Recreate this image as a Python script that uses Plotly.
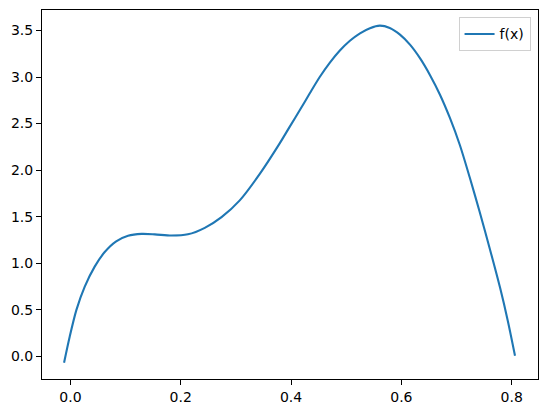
import plotly.graph_objects as go

# values
x_vals = [-0.0115, -0.0013, 0.0109, 0.026, 0.044, 0.0622, 0.083, 0.1045, 0.129, 0.153,
          0.183, 0.213, 0.2436, 0.274, 0.307, 0.343, 0.3797, 0.398, 0.416, 0.434,
          0.452, 0.4704, 0.4885, 0.5067, 0.525, 0.543, 0.561, 0.579, 0.5975, 0.616,
          0.634, 0.652, 0.670, 0.688, 0.706, 0.724, 0.742, 0.761, 0.779, 0.793, 0.806]
y_vals = [-0.069, 0.21, 0.498, 0.748, 0.963, 1.12, 1.235, 1.295, 1.315, 1.31,
          1.297, 1.31, 1.38, 1.495, 1.675, 1.957, 2.29, 2.47, 2.645, 2.825,
          3.0, 3.155, 3.285, 3.39, 3.47, 3.525, 3.552, 3.527, 3.455, 3.345,
          3.20, 3.02, 2.81, 2.56, 2.27, 1.92, 1.55, 1.14, 0.735, 0.38, 0.006]

x_ticks = [0.0, 0.2, 0.4, 0.6, 0.8]
y_ticks = [0.0, 0.5, 1.0, 1.5, 2.0, 2.5, 3.0, 3.5]

trace = go.Scatter(x=x_vals, y=y_vals, mode='lines', name='f(x)',
                   line={'color': '#1f77b4', 'width': 2.1, 'shape': 'spline', 'smoothing': 0.8})

axis_style = dict(showline=True, mirror=True, linecolor='black', linewidth=1.1,
                  ticks='outside', ticklen=5, tickwidth=1.1, tickcolor='black',
                  showgrid=False, zeroline=False, tickformat='.1f',
                  tickfont={'family': 'DejaVu Sans', 'size': 14, 'color': 'black'})

# the page body keeps its 8px browser margin, so the figure is 8px smaller
layout = go.Layout(
    width=539, height=405,
    margin={'l': 34, 'r': 9, 't': 2, 'b': 34},
    paper_bgcolor='white', plot_bgcolor='white',
    xaxis=dict(axis_style, range=[-0.0515, 0.8477], tickvals=x_ticks),
    yaxis=dict(axis_style, range=[-0.244, 3.72], tickvals=y_ticks),
    showlegend=True,
    legend={'x': 0.985, 'y': 0.98, 'xanchor': 'right', 'yanchor': 'top',
            'bordercolor': '#d0d0d0', 'borderwidth': 1, 'bgcolor': 'white',
            'itemwidth': 30,
            'font': {'family': 'DejaVu Sans', 'size': 14, 'color': 'black'}},
)

fig = go.Figure(data=[trace], layout=layout)
fig.write_html("out.html")
